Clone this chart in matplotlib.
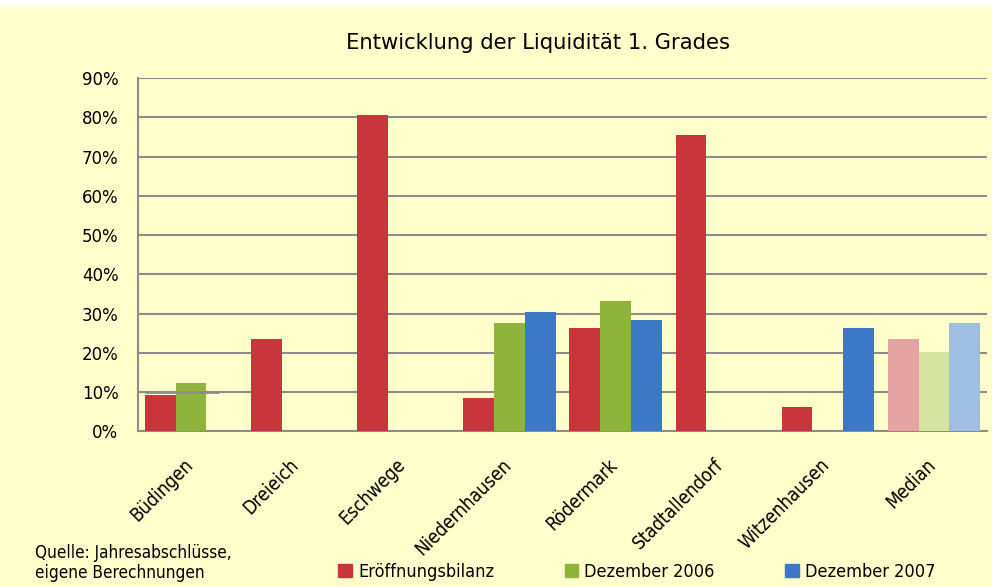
"""Entwicklung der Liquidität 1. Grades - grouped bar chart."""

import matplotlib.pyplot as plt
import matplotlib.transforms as mtransforms
import numpy as np
from matplotlib.patches import Rectangle

categories = ["Büdingen", "Dreieich", "Eschwege", "Niedernhausen",
              "Rödermark", "Stadtallendorf", "Witzenhausen", "Median"]
series_names = ["Eröffnungsbilanz", "Dezember 2006", "Dezember 2007"]
# NaN = no value for that period
eroeffnung = [9.3, 23.5, 80.5, 8.4, 26.3, 75.4, 6.2, 23.5]
dez_2006 = [12.4, np.nan, np.nan, 27.5, 33.3, np.nan, np.nan, 20.3]
dez_2007 = [np.nan, np.nan, np.nan, 30.3, 28.4, np.nan, 26.3, 27.5]
yticks = [0, 10, 20, 30, 40, 50, 60, 70, 80, 90]
# stray gridline segment drawn over the Büdingen bars in the original
overlay_cat, overlay_val = 0, 10

BG = "#FFFFCC"
colors = ["#C8363C", "#8EB43C", "#3B78C6"]
median_colors = ["#E5A3A3", "#D6E5A2", "#A0BEE4"]
narrow = {"family": "DejaVu Sans", "stretch": "condensed"}

fig = plt.figure(figsize=(9.92, 5.87), dpi=100)
fig.patch.set_facecolor(BG)
fig.patches.append(Rectangle((0, 1 - 6 / 587), 1, 6 / 587, transform=fig.transFigure,
                             facecolor="white", edgecolor="none", zorder=0))
ax = fig.add_axes([0.139, 0.265, 0.856, 0.602])
ax.set_facecolor(BG)

x = np.arange(len(categories))
w = 0.29
for k, vals in enumerate([eroeffnung, dez_2006, dez_2007]):
    vals = np.asarray(vals, dtype=float)
    cols = [colors[k]] * (len(categories) - 1) + [median_colors[k]]
    ax.bar(x + (k - 1) * w, np.nan_to_num(vals), width=w, color=cols,
           edgecolor="none", zorder=3, label=series_names[k])

ax.hlines(overlay_val, overlay_cat - 1.5 * w, overlay_cat + 0.9 * w,
          color="#8C8C8C", lw=2, zorder=4)

ax.set_xlim(-0.5, len(categories) - 0.5)
ax.set_ylim(0, 90)
ax.set_yticks(yticks)
ax.set_yticklabels([f"{t}%" for t in yticks], fontsize=12, family="DejaVu Sans")
ax.yaxis.grid(True, color="#8C8C8C", lw=1.5, zorder=1)
ax.tick_params(axis="y", length=0, pad=14)
ax.tick_params(axis="x", length=0, pad=17)
ax.set_xticks(x)
ax.set_xticklabels(categories, rotation=45, ha="right", rotation_mode="anchor",
                   fontsize=13.5, **narrow)
shift = mtransforms.ScaledTranslation(-8 / 100, 0, fig.dpi_scale_trans)
for lbl in ax.get_xticklabels():
    lbl.set_transform(lbl.get_transform() + shift)
for s in ["top", "right"]:
    ax.spines[s].set_visible(False)
for s in ["left", "bottom"]:
    ax.spines[s].set_color("#8C8C8C")
    ax.spines[s].set_linewidth(1.5)

fig.text(0.542, 0.927, "Entwicklung der Liquidität 1. Grades", ha="center", va="center",
         fontsize=15.2, family="DejaVu Sans")

fig.text(0.035, 0.041, "Quelle: Jahresabschlüsse,\neigene Berechnungen", ha="left", va="center",
         fontsize=12.3, linespacing=1.1, **narrow)

leg = fig.legend(loc="center", bbox_to_anchor=(0.642, 0.026), ncol=3, frameon=False,
                 handlelength=0.75, handleheight=0.75, columnspacing=3.9, handletextpad=0.35,
                 borderpad=0, prop={"family": "DejaVu Sans", "stretch": "condensed", "size": 13})
for h, c in zip(leg.legend_handles, colors):
    h.set_color(c)

fig.savefig("out.png", dpi=100, facecolor=BG)
